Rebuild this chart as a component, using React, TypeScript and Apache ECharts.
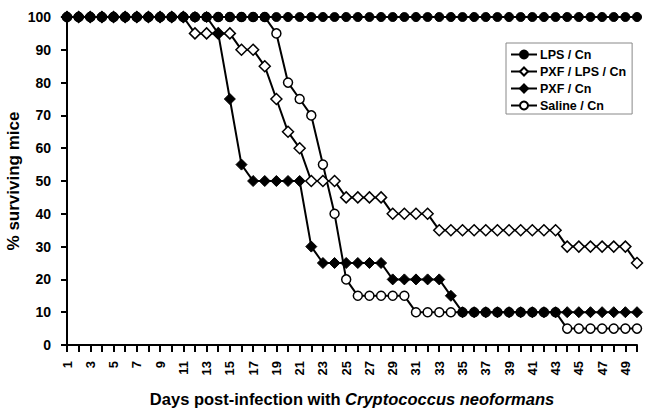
import React, { useEffect, useRef } from "react";
import * as echarts from "echarts";

const days: string[] = [
  "1","2","3","4","5","6","7","8","9","10",
  "11","12","13","14","15","16","17","18","19","20",
  "21","22","23","24","25","26","27","28","29","30",
  "31","32","33","34","35","36","37","38","39","40",
  "41","42","43","44","45","46","47","48","49","50",
];

const lpsCn: number[] = [
  100,100,100,100,100,100,100,100,100,100,
  100,100,100,100,100,100,100,100,100,100,
  100,100,100,100,100,100,100,100,100,100,
  100,100,100,100,100,100,100,100,100,100,
  100,100,100,100,100,100,100,100,100,100,
];

const pxfLpsCn: number[] = [
  100,100,100,100,100,100,100,100,100,100,
  100,95,95,95,95,90,90,85,75,65,
  60,50,50,50,45,45,45,45,40,40,
  40,40,35,35,35,35,35,35,35,35,
  35,35,35,30,30,30,30,30,30,25,
];

const pxfCn: number[] = [
  100,100,100,100,100,100,100,100,100,100,
  100,100,100,95,75,55,50,50,50,50,
  50,30,25,25,25,25,25,25,20,20,
  20,20,20,15,10,10,10,10,10,10,
  10,10,10,10,10,10,10,10,10,10,
];

const salineCn: number[] = [
  100,100,100,100,100,100,100,100,100,100,
  100,100,100,100,100,100,100,100,95,80,
  75,70,55,40,20,15,15,15,15,15,
  10,10,10,10,10,10,10,10,10,10,
  10,10,10,5,5,5,5,5,5,5,
];

const FONT = "'Liberation Sans', Arial, sans-serif";

export default function App() {
  const ref = useRef<HTMLDivElement>(null);
  useEffect(() => {
    if (!ref.current) return;
    const chart = echarts.init(ref.current, null, { renderer: "svg" });
    const lineStyle = { color: "#000", width: 2 };
    chart.setOption({
      animation: false,
      backgroundColor: "#fff",
      textStyle: { fontFamily: FONT },
      grid: { left: 67, right: 13, top: 17, bottom: 73, containLabel: false, outerBoundsMode: "none" },
      legend: {
        orient: "vertical",
        left: 506,
        top: 43,
        padding: [5, 6, 2, 4],
        itemGap: 4,
        itemWidth: 26,
        itemHeight: 10,
        borderColor: "#888",
        borderWidth: 1,
        backgroundColor: "#fff",
        textStyle: { fontFamily: FONT, fontWeight: "bold", fontSize: 12.5, color: "#000", padding: [0, 0, 0, -2] },
        data: ["LPS / Cn", "PXF / LPS / Cn", "PXF / Cn", "Saline / Cn"],
      },
      xAxis: {
        type: "category",
        data: days,
        boundaryGap: false,
        name: "{b|Days post-infection with }{i|Cryptococcus neoformans}",
        nameLocation: "middle",
        nameGap: 45,
        nameMoveOverlap: false,
        nameTextStyle: {
          rich: {
            b: { fontFamily: FONT, fontWeight: "bold", fontSize: 16.5, color: "#000" },
            i: { fontFamily: FONT, fontWeight: "bold", fontStyle: "italic", fontSize: 16.5, color: "#000" },
          },
        },
        axisLine: { lineStyle: { color: "#000", width: 2 } },
        axisTick: { interval: 0, length: 7, lineStyle: { color: "#000", width: 2 } },
        axisLabel: {
          interval: 1,
          rotate: 90,
          fontFamily: FONT,
          fontWeight: "bold",
          fontSize: 13,
          color: "#000",
          margin: 16,
        },
      },
      yAxis: {
        type: "value",
        min: 0,
        max: 100,
        interval: 10,
        name: "% surviving mice",
        nameLocation: "middle",
        nameGap: 45,
        nameMoveOverlap: false,
        nameTextStyle: { fontFamily: FONT, fontWeight: "bold", fontSize: 17, color: "#000" },
        splitLine: { show: false },
        axisLine: { show: true, lineStyle: { color: "#000", width: 2 } },
        axisTick: { show: true, length: 6, lineStyle: { color: "#000", width: 2 } },
        axisLabel: { fontFamily: FONT, fontWeight: "bold", fontSize: 14, color: "#000", margin: 16 },
      },
      series: [
        {
          name: "PXF / LPS / Cn",
          type: "line",
          data: pxfLpsCn,
          symbol: "diamond",
          symbolSize: 11,
          showAllSymbol: true,
          lineStyle,
          itemStyle: { color: "#fff", borderColor: "#000", borderWidth: 1.5 },
        },
        {
          name: "Saline / Cn",
          type: "line",
          data: salineCn,
          symbol: "circle",
          symbolSize: 9,
          showAllSymbol: true,
          lineStyle,
          itemStyle: { color: "#fff", borderColor: "#000", borderWidth: 1.5 },
        },
        {
          name: "PXF / Cn",
          type: "line",
          data: pxfCn,
          symbol: "diamond",
          symbolSize: 11,
          showAllSymbol: true,
          lineStyle,
          itemStyle: { color: "#000", borderColor: "#000", borderWidth: 1 },
        },
        {
          name: "LPS / Cn",
          type: "line",
          data: lpsCn,
          symbol: "circle",
          symbolSize: 9,
          showAllSymbol: true,
          lineStyle,
          itemStyle: { color: "#000", borderColor: "#000", borderWidth: 1 },
        },
      ],
    });
    return () => chart.dispose();
  }, []);
  return <div ref={ref} style={{ width: 650, height: 418, position: "absolute", left: 0, top: 0 }} />;
}
